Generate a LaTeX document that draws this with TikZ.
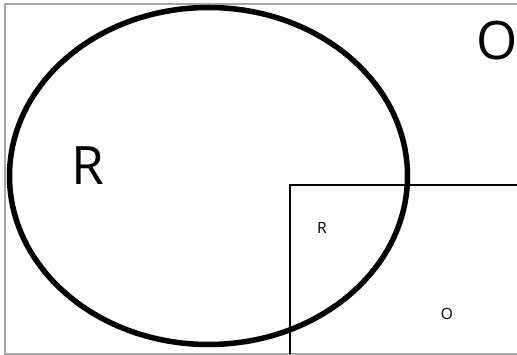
\documentclass[tikz,border=0pt]{standalone}
\usepackage{fontspec}
\setmainfont{Open Sans}
\usetikzlibrary{positioning}

\begin{document}
\begin{tikzpicture}[x=1pt,y=-1pt,line cap=butt,line join=miter]
\tikzset{biglabel/.style={font=\fontsize{53}{53}\selectfont,inner sep=0pt},
  smalllabel/.style={font=\fontsize{15.5}{15.5}\selectfont,inner sep=0pt}}
\useasboundingbox (0,0) rectangle (517,355);
% outer frame
\draw[gray!70,line width=1.2pt] (517,4) -- (5,4) -- (5,354) -- (517,354);
% set R
\draw[line width=5.5pt] (208.5,176) ellipse [x radius=199,y radius=168.5];
% set O
\draw[line width=2pt] (517,185) -- (290,185) -- (290,354.5);
% labels
\node[biglabel] (bigR) at (88,166) {R};
\node[biglabel] (bigO) at (497,41) {O};
\node[smalllabel] (smallR) at (322,228) {R};
\node[smalllabel] (smallO) at (447,314) {O};
\end{tikzpicture}
\end{document}
